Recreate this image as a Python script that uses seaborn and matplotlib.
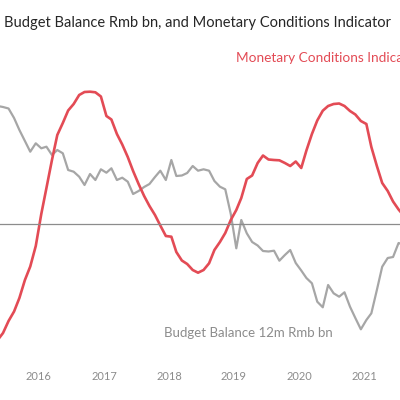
import pandas as pd
import seaborn as sns
import matplotlib.pyplot as plt
import matplotlib.transforms as mtransforms

# monthly readings, May 2015 - Aug 2021 (no y scale shown on the chart, so arbitrary units)
months = pd.date_range('2015-05-31', periods=76, freq='ME')

budget_balance = [
    118, 117, 115.5, 106, 94, 83, 72.3, 80.7,
    75.7, 77.3, 69, 74, 70.7, 54, 52.3, 47.3, 39, 50, 44, 54.7,
    51.3, 55.7, 44, 46.3, 42.3, 30, 33, 37, 40, 47, 53.3, 44,
    64, 48, 48.5, 51, 58, 53.3, 54.7, 53.3, 43, 37.3, 34.7, 10,
    -24.3, 4, -9.3, -18, -21.5, -27, -27.5, -26.7, -36.7, -31, -26, -39,
    -46.5, -54, -59.3, -77.7, -83.3, -61, -69.3, -72.7, -68.3, -82.7, -94, -105.3,
    -96, -89.3, -66, -42.7, -34, -33, -19, -21,
]

mci = [
    -116, -109, -97, -87.5, -74, -56, -42.5, -22,
    10, 36, 64, 89, 101, 113.5, 120, 129, 132, 132.3, 131.7, 127.5,
    108, 104.5, 90, 79.5, 67, 53, 40, 28, 18, 9, -1.5, -12,
    -12.7, -28, -36.5, -40, -46, -48.7, -46, -39.3, -26, -18, -9, 4,
    14, 26, 45, 48.5, 61, 68.5, 64.5, 64, 63.7, 61, 58, 62.5,
    56, 73.5, 90, 103.5, 113.3, 118, 120, 120.5, 118, 113, 109.5, 103,
    100, 77, 58, 41, 33, 22.5, 14.5, 8,
]

years = ['2016', '2017', '2018', '2019', '2020', '2021']

df = pd.DataFrame({'month': months, 'budget': budget_balance, 'mci': mci})

sns.set_style('white')
plt.rcParams['font.family'] = ['Lato', 'DejaVu Sans']

fig = plt.figure(figsize=(4, 4), dpi=100)
ax = fig.add_axes([0, 0.125, 1, 0.7])

sns.lineplot(data=df, x='month', y='budget', color='#a6a6a6', linewidth=1.6, ax=ax)
sns.lineplot(data=df, x='month', y='mci', color='#e34b55', linewidth=1.9, ax=ax)

ax.set_xlim(pd.Timestamp('2015-06-13'), pd.Timestamp('2021-08-08'))
ax.set_ylim(-126, 154)

for s in ['top', 'right', 'left']:
    ax.spines[s].set_visible(False)
ax.spines['bottom'].set_position(('data', 0))
ax.spines['bottom'].set_color('#8c8c8c')
ax.spines['bottom'].set_linewidth(0.9)

ax.set_xticks([pd.Timestamp(y + '-01-01') for y in years])
ax.set_xticklabels(years)
ax.tick_params(axis='x', direction='out', length=3, width=0.8, color='#8c8c8c',
               pad=103, labelsize=8, labelcolor='#8c8c8c')
# labels sit a touch right of the tick marks in the original
nudge = mtransforms.ScaledTranslation(3 / 100, 0, fig.dpi_scale_trans)
for lab in ax.get_xticklabels():
    lab.set_transform(lab.get_transform() + nudge)
ax.set_yticks([])
ax.set_xlabel('')
ax.set_ylabel('')

fig.text(0.01, 1 - 23 / 400, 'Budget Balance Rmb bn, and Monetary Conditions Indicator',
         fontsize=10.5, color='#262626', va='center', ha='left')
fig.text(236 / 400, 1 - 58 / 400, 'Monetary Conditions Indicator',
         fontsize=9.8, color='#e34b55', va='center', ha='left')
fig.text(164 / 400, 1 - 333 / 400, 'Budget Balance 12m Rmb bn',
         fontsize=9.5, color='#8c8c8c', va='center', ha='left')

fig.savefig('out.png', dpi=100)
